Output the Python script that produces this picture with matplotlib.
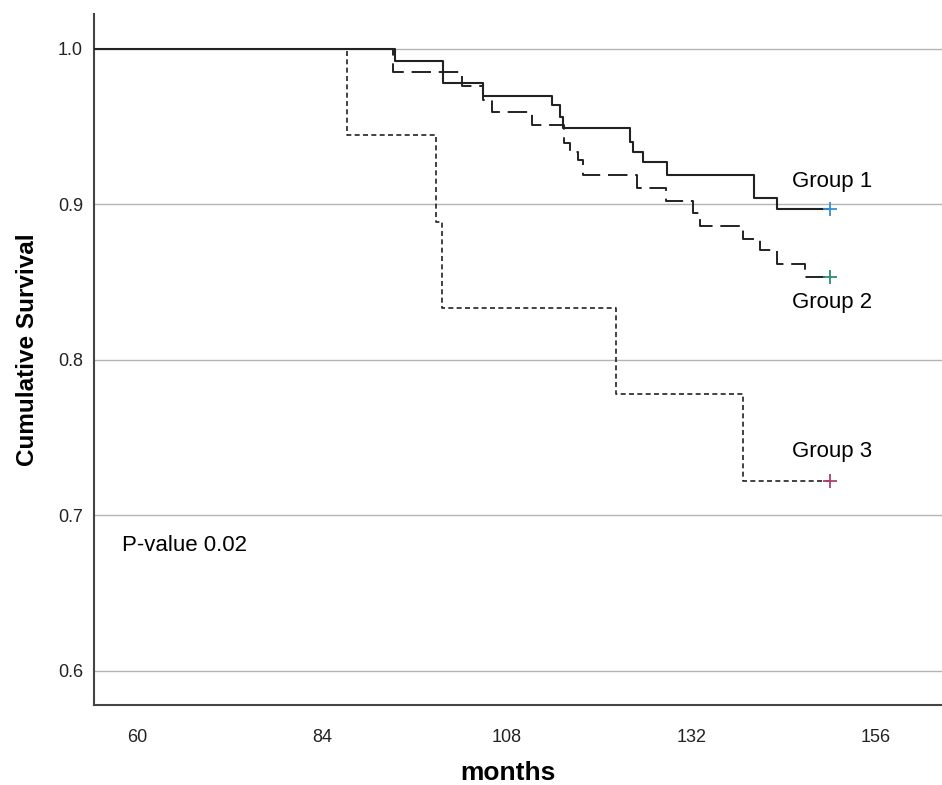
import matplotlib.pyplot as plt

plt.rcParams['font.family'] = ['Liberation Sans', 'DejaVu Sans']

# step curves (months, cumulative survival)
g1_months = [0, 93.5, 99.7, 104.9, 113.9, 114.9, 115.4, 124.0, 124.4, 125.7, 128.8, 140.2, 143.1, 150.0]
g1_surv = [1.0, 0.992, 0.978, 0.970, 0.964, 0.956, 0.949, 0.940, 0.934, 0.927, 0.919, 0.904, 0.897, 0.897]

g2_months = [0, 93.2, 102.2, 104.9, 106.1, 111.3, 115.5, 116.2, 117.3, 118.0, 124.9, 128.7, 132.2, 133.2,
             138.8, 141.0, 143.1, 146.8, 150.0]
g2_surv = [1.0, 0.985, 0.976, 0.967, 0.9595, 0.951, 0.9395, 0.934, 0.9286, 0.919, 0.9106, 0.902, 0.8945, 0.886,
           0.878, 0.871, 0.862, 0.853, 0.853]

g3_months = [0, 87.3, 98.8, 99.6, 122.3, 138.7, 150.0]
g3_surv = [1.0, 0.9444, 0.8889, 0.8333, 0.7778, 0.7222, 0.7222]

group_names = ['Group 1', 'Group 2', 'Group 3']
censor_colors = ['#3a8fd0', '#2e8a74', '#b04070']
x_ticks = [60, 84, 108, 132, 156]
y_ticks = [0.6, 0.7, 0.8, 0.9, 1.0]

fig = plt.figure(figsize=(9.42, 7.85), dpi=100)
ax = fig.add_axes([94 / 942, 80 / 785, 848 / 942, 691 / 785])

for y in y_ticks:
    ax.axhline(y, color='#b4b4b4', lw=1.0, zorder=1)

line_c = '#222222'
ax.step(g1_months, g1_surv, where='post', color=line_c, lw=1.5, zorder=3)
ax.step(g2_months, g2_surv, where='post', color=line_c, lw=1.4, dashes=(10, 4), zorder=3)
ax.step(g3_months, g3_surv, where='post', color=line_c, lw=1.2, dashes=(3, 2), zorder=3)

ends = [(g1_months[-1], g1_surv[-1]), (g2_months[-1], g2_surv[-1]), (g3_months[-1], g3_surv[-1])]
for (x, y), c in zip(ends, censor_colors):
    ax.plot(x, y, marker='+', ms=10, mew=1.3, color=c, zorder=4)

ax.text(145.1, 0.9145, group_names[0], fontsize=16, va='center', ha='left')
ax.text(145.1, 0.8367, group_names[1], fontsize=16, va='center', ha='left')
ax.text(145.1, 0.741, group_names[2], fontsize=16, va='center', ha='left')
ax.text(58.0, 0.6804, 'P-value 0.02', fontsize=16, va='center', ha='left')

ax.set_xlim(54.4, 164.6)
ax.set_ylim(0.578, 1.0225)
ax.set_xticks(x_ticks)
ax.set_yticks(y_ticks)
ax.set_yticklabels(['0.6', '0.7', '0.8', '0.9', '1.0'])
ax.tick_params(length=0, labelsize=13, colors='#222222')
ax.tick_params(axis='x', pad=17)
ax.tick_params(axis='y', pad=8)

for s in ['top', 'right']:
    ax.spines[s].set_visible(False)
for s in ['left', 'bottom']:
    ax.spines[s].set_color('#444444')
    ax.spines[s].set_linewidth(1.5)

ax.set_ylabel('Cumulative Survival', fontsize=17.5, fontweight='bold')
ax.yaxis.set_label_coords(-55 / 848, (705 - 350) / 691)
fig.text(508 / 942, 12 / 785, 'months', fontsize=19, fontweight='bold', ha='center', va='center')

fig.savefig('out.png', dpi=100)
